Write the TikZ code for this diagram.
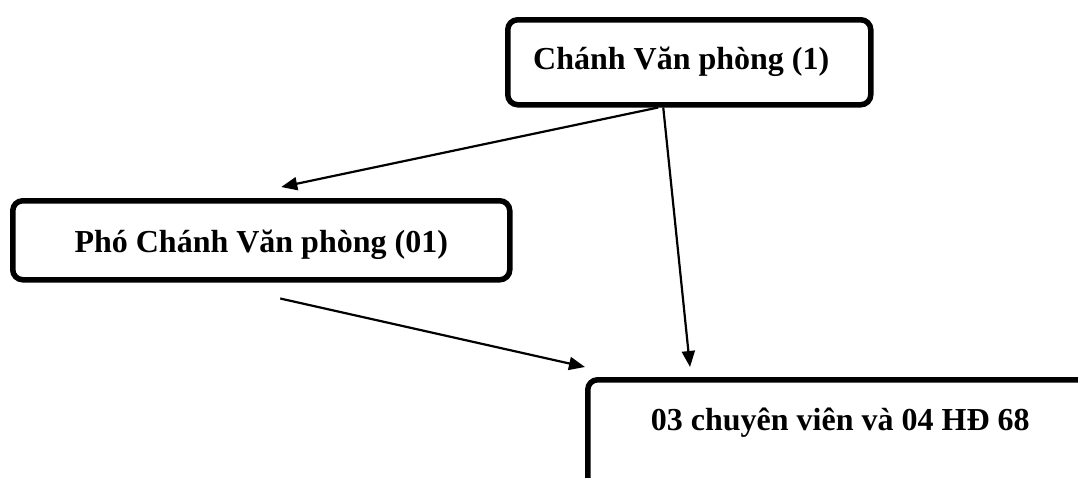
\documentclass[tikz,border=0pt]{standalone}
\usepackage{fontspec}
\setmainfont{Liberation Serif}
\usetikzlibrary{positioning,arrows.meta}

\begin{document}
\begin{tikzpicture}[
x=1pt, y=-1pt,
unit/.style={rectangle, rounded corners=10pt, draw=black, line width=5.5pt, fill=white, anchor=north west, inner xsep=0pt, inner ysep=0pt, font=\fontsize{32}{38}\selectfont\bfseries},
link/.style={-{Triangle[length=16pt,width=13pt]}, line width=2.2pt}
]
\useasboundingbox (0,0) rectangle (1078,477);

\node[unit, minimum width=363pt, text height=50pt, text depth=35pt](chanh_vp) at (505,17) {Chánh Văn phòng (1)\hspace*{16pt}};
\node[unit, minimum width=497pt, text height=52pt, text depth=27pt](pho_chanh) at (10,198) {Phó Chánh Văn phòng (01)};
\node[unit, minimum width=505pt, text height=51pt, text depth=90pt](chuyen_vien) at (585,377) {03 chuyên viên và 04 HĐ 68};

\draw[link] ([xshift=-31pt]chanh_vp.south) -- ([xshift=20pt,yshift=11pt]pho_chanh.north);
\draw[link] ([xshift=-26pt]chanh_vp.south) -- ([xshift=105pt,yshift=10pt]chuyen_vien.north west);
\draw[link] ([xshift=19pt,yshift=-16pt]pho_chanh.south) -- ([yshift=10pt]chuyen_vien.north west);
\end{tikzpicture}
\end{document}
